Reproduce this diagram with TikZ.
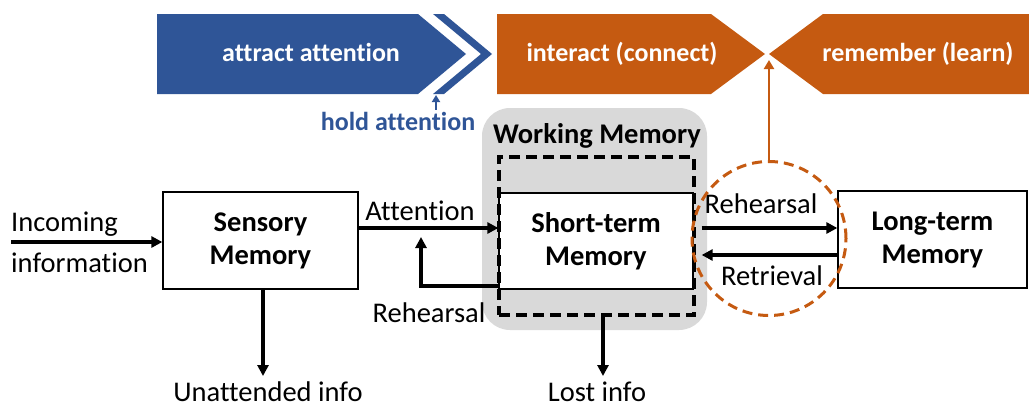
\documentclass[tikz,border=0pt]{standalone}
\usepackage{fontspec}
\setmainfont{Carlito}[Ligatures=NoCommon]
\usetikzlibrary{arrows.meta}
\definecolor{bannerblue}{HTML}{2F5597}
\definecolor{bannerorange}{HTML}{C55A11}
\definecolor{wmgray}{HTML}{D9D9D9}
\tikzset{
  lbl/.style={font=\fontsize{28.5}{33}\selectfont, inner sep=0pt},
  boxtxt/.style={font=\fontsize{28.5}{33}\selectfont\bfseries, align=center},
  membox/.style={draw=black, line width=1.3pt, fill=white, boxtxt},
  flow/.style={line width=3.3pt, -{Triangle[length=11pt,width=11pt]}},
  bannertxt/.style={font=\fontsize{26}{30}\selectfont\bfseries, text=white, inner sep=0pt, anchor=base},
}
\begin{document}
\begin{tikzpicture}[x=1pt,y=-1pt]
\useasboundingbox (0,0) rectangle (1029,407);

% ---- stage banners ----
\fill[bannerblue] (157,14) -- (418,14) -- (466,54) -- (418,94) -- (157,94) -- cycle;
\fill[bannerblue] (433,14) -- (444,14) -- (492,54) -- (444,94) -- (433,94) -- (481,54) -- cycle;
\fill[bannerorange] (497,14) -- (711,14) -- (765,54) -- (711,94) -- (497,94) -- cycle;
\fill[bannerorange] (769,54) -- (823,14) -- (1029,14) -- (1029,94) -- (823,94) -- cycle;

\node[bannertxt] (attract) at (311,61) {attract attention};
\node[bannertxt] (interact) at (622,61) {interact (connect)};
\node[bannertxt] (remember) at (918,61) {remember (learn)};
\node[bannertxt, text=bannerblue] (hold) at (398,130) {hold attention};
\coordinate (holdtip) at (436,95);
\draw[bannerblue, line width=2pt, -{Triangle[length=7pt,width=8pt]}]
  ([yshift=2pt]holdtip |- hold.north) -- (holdtip);

% ---- working memory area ----
\node[fill=wmgray, rounded corners=28pt, minimum width=225pt, minimum height=222pt,
      inner sep=0pt] (wm) at (594.5,219) {};
\node[boxtxt, inner sep=0pt, anchor=base] (wmlabel) at (597,143) {Working Memory};

% ---- memory stores ----
\node[membox, minimum width=195pt, minimum height=97pt] (sens) at (260.5,240.5) {Sensory\\Memory};
\node[membox, minimum width=194pt, minimum height=96pt] (stm) at (596,241) {Short-term\\Memory};
\node[membox, minimum width=189pt, minimum height=97pt] (ltm) at (932.5,239.5) {Long-term\\Memory};
\node[draw=black, line width=3.5pt, dash pattern=on 11pt off 6pt,
      minimum width=195pt, minimum height=158pt, inner sep=0pt] (wmdash) at (596.5,236) {};

% ---- labels ----
\node[lbl, anchor=base west] (inc1) at (11,231) {Incoming};
\node[lbl, anchor=base west] (inc2) at (11,272) {information};
\node[lbl, anchor=base] (att) at (420,220) {Attention};
\node[lbl, anchor=base] (reh1) at (429,322) {Rehearsal};
\node[lbl, anchor=base] (reh2) at (761,213) {Rehearsal};
\node[lbl, anchor=base] (ret) at (772,285) {Retrieval};
\node[lbl, anchor=base] (unatt) at (268,401) {Unattended info};
\node[lbl, anchor=base] (lost) at (597,401) {Lost info};

% ---- information flow ----
\coordinate (inc) at (11,242);
\draw[flow] (inc) -- (inc -| sens.west);
\draw[flow] ([yshift=12.5pt]sens.east) coordinate (a1) -- (a1 -| stm.west);
\coordinate (loopend) at (421,237);
\draw[flow] ([yshift=-45pt]stm.west) -| (loopend);
\draw[flow] ([xshift=8pt,yshift=13pt]stm.east) coordinate (r1) -- (r1 -| ltm.west);
\coordinate (r2) at ([xshift=8pt,yshift=-14pt]stm.east);
\draw[flow] (r2 -| ltm.west) -- (r2);
\coordinate (ua) at (263,376);
\draw[flow] (ua |- sens.south) -- (ua);
\coordinate (li) at (603,376);
\draw[flow] (li |- wmdash.south) -- (li);

% ---- retrieval focus ----
\node[draw=bannerorange, line width=3pt, dash pattern=on 10pt off 6pt, circle,
      minimum size=154pt, inner sep=0pt] (focus) at (769,238.5) {};
\coordinate (meet) at (769,60);
\draw[bannerorange, line width=2.5pt, -{Triangle[length=9pt,width=10pt]}] (focus.north) -- (meet);
\end{tikzpicture}
\end{document}
